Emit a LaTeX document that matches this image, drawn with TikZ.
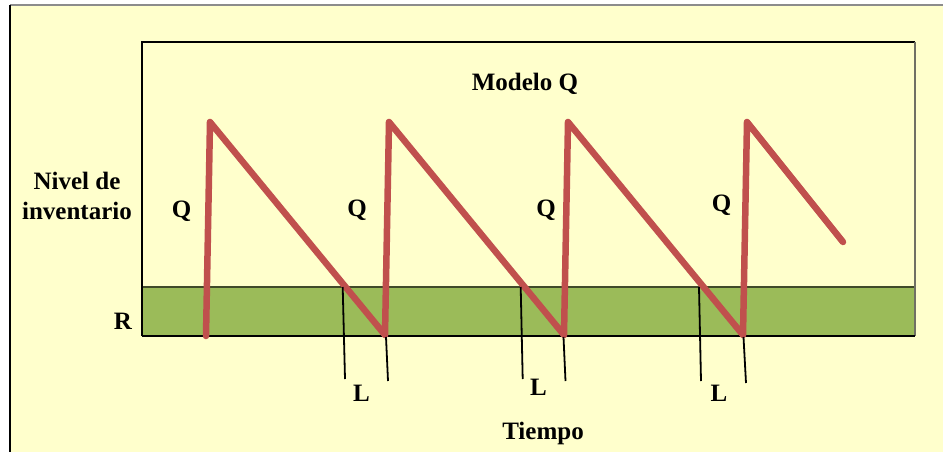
\documentclass[tikz,border=0pt]{standalone}
\usepackage{fontspec}
\setmainfont{Liberation Serif}
\definecolor{bgyellow}{HTML}{FFFFCC}
\definecolor{bandgreen}{HTML}{9BBB59}
\definecolor{bandedge}{HTML}{3F4A28}
\definecolor{sawred}{HTML}{C0504D}
\begin{document}
\begin{tikzpicture}[x=1pt,y=-1pt,
  lbl/.style={font=\bfseries\fontsize{25}{30}\selectfont, inner sep=0pt, align=center},
  saw/.style={draw=sawred, line width=6.5pt, line cap=round, line join=round},
  lead/.style={draw=black, line width=1.8pt}]
\useasboundingbox (0,0) rectangle (943,451);
\fill[white] (0,0) rectangle (943,451);
% outer panel
\fill[bgyellow] (10,5) rectangle (960,470);
\draw[gray!90, line width=1.8pt] (10,5) -- (960,5);
\draw[black, line width=1.6pt] (10,5) -- (10,470);
% band R
\fill[bandgreen] (142,287) rectangle (915,336);
\draw[bandedge, line width=1.4pt] (142,287) -- (915,287);
% inner frame
\draw[black, line width=1.4pt] (142,336) -- (142,42) -- (915,42);
\draw[black!60!bgyellow!60!gray, line width=1.6pt] (915,42) -- (915,336);
\draw[black, line width=1.4pt] (142,336) -- (915,336);
% saw-tooth vertices
\coordinate (b1) at (206,336);
\coordinate (p1) at (210,122);
\coordinate (b2) at (385,335);
\coordinate (p2) at (389,122);
\coordinate (b3) at (564,335);
\coordinate (p3) at (568,122);
\coordinate (b4) at (743,335);
\coordinate (p4) at (747,122);
\coordinate (e4) at (843,242);
\draw[saw] (b1) -- (p1) -- (b2) -- (p2) -- (b3) -- (p3) -- (b4) -- (p4) -- (e4);
% lead time markers
\coordinate (l1a) at (342.7,287); \coordinate (l1b) at (345,379);
\coordinate (r1a) at (386,337);   \coordinate (r1b) at (388,381);
\coordinate (l2a) at (520.7,287); \coordinate (l2b) at (522.7,379);
\coordinate (r2a) at (563.5,337); \coordinate (r2b) at (565.5,381);
\coordinate (l3a) at (699,287);   \coordinate (l3b) at (701,381);
\coordinate (r3a) at (743.5,337); \coordinate (r3b) at (746,383);
\draw[lead] (l1a) -- (l1b);
\draw[lead] (r1a) -- (r1b);
\draw[lead] (l2a) -- (l2b);
\draw[lead] (r2a) -- (r2b);
\draw[lead] (l3a) -- (l3b);
\draw[lead] (r3a) -- (r3b);
% labels
\node[lbl] (title) at (525,84) {Modelo Q};
\node[lbl] (ylab) at (77,196) {Nivel de\\inventario};
\node[lbl] (q1) at (181.5,211) {Q};
\node[lbl] (q2) at (357,210) {Q};
\node[lbl] (q3) at (546,210) {Q};
\node[lbl] (q4) at (721.5,205) {Q};
\node[lbl] (r) at (123,321) {R};
\node[lbl] (L1) at (361.5,393) {L};
\node[lbl] (L2) at (538.5,387) {L};
\node[lbl] (L3) at (719,393) {L};
\node[lbl] (xlab) at (543,433) {Tiempo};
\end{tikzpicture}
\end{document}
